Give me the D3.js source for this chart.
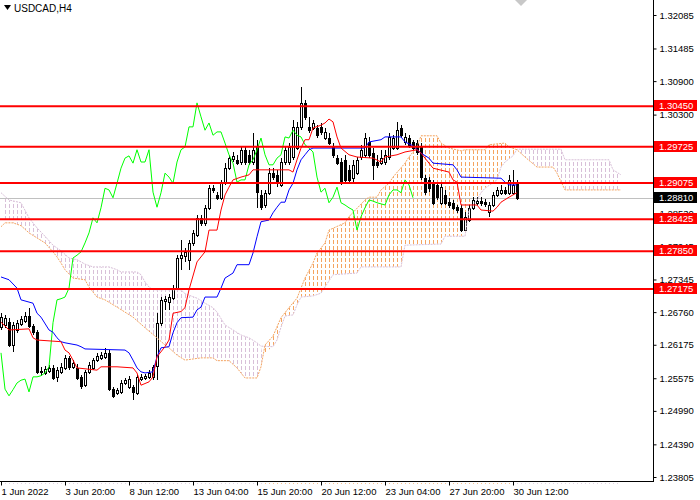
<!DOCTYPE html>
<html>
<head>
<meta charset="utf-8">
<script src="https://cdn.jsdelivr.net/npm/d3@7"></script>
<style>
  body { margin: 0; background: #fff; }
  svg text { font-family: "Liberation Sans", Arial, sans-serif; }
</style>
</head>
<body>
<div id="viz"></div>
<script>
const width = 700;
const height = 500;
const plotRight = 653;
const plotBottom = 481;

const symbol = 'USDCAD,H4';

// H4 candles, one per bar
const opens = [1.2649,1.2653,1.2658,1.2617,1.2644,1.2655,1.2660,1.2669,1.2651,1.2640,
  1.2569,1.2567,1.2571,1.2576,1.2560,1.2569,1.2576,1.2594,1.2578,1.2576,
  1.2560,1.2545,1.2569,1.2576,1.2590,1.2594,1.2596,1.2603,1.2538,1.2531,
  1.2533,1.2549,1.2542,1.2542,1.2531,1.2556,1.2558,1.2560,1.2560,1.2580,
  1.2657,1.2696,1.2694,1.2701,1.2719,1.2773,1.2777,1.2770,1.2800,1.2814,
  1.2845,1.2836,1.2863,1.2898,1.2886,1.2881,1.2907,1.2934,1.2950,1.2949,
  1.2945,1.2967,1.2958,1.2945,1.2972,1.2886,1.2868,1.2890,1.2925,1.2922,
  1.2904,1.2945,1.2945,1.2954,1.2970,1.3008,1.3051,1.3008,1.3006,1.3006,
  1.3008,1.2988,1.2988,1.2972,1.2952,1.2945,1.2949,1.2931,1.2916,1.2925,
  1.2954,1.2958,1.2981,1.2961,1.2945,1.2943,1.2945,1.2954,1.2970,1.2970,
  1.3006,1.2981,1.2988,1.2981,1.2979,1.2972,1.2916,1.2913,1.2907,1.2904,
  1.2872,1.2886,1.2873,1.2872,1.2864,1.2862,1.2823,1.2841,1.2863,1.2872,
  1.2875,1.2873,1.2855,1.2868,1.2886,1.2890,1.2895,1.2890,1.2890,1.2907];
const highs = [1.2674,1.2671,1.2666,1.2658,1.2662,1.2669,1.2676,1.2684,1.2655,1.2644,
  1.2578,1.2579,1.2581,1.2581,1.2578,1.2585,1.2599,1.2597,1.2590,1.2583,
  1.2563,1.2572,1.2587,1.2594,1.2603,1.2605,1.2612,1.2608,1.2542,1.2540,
  1.2554,1.2558,1.2562,1.2545,1.2563,1.2565,1.2565,1.2572,1.2581,1.2674,
  1.2703,1.2705,1.2709,1.2725,1.2778,1.2805,1.2791,1.2805,1.2823,1.2850,
  1.2850,1.2868,1.2904,1.2904,1.2891,1.2913,1.2943,1.2958,1.2963,1.2958,
  1.2972,1.2972,1.2967,1.2997,1.2985,1.2895,1.2895,1.2934,1.2934,1.2931,
  1.2952,1.2972,1.2979,1.3020,1.3017,1.3080,1.3056,1.3026,1.3020,1.3011,
  1.3015,1.3006,1.2997,1.2979,1.2958,1.2952,1.2958,1.2940,1.2949,1.2954,
  1.2976,1.2997,1.2990,1.2970,1.2958,1.2967,1.2967,1.2997,1.2993,1.3017,
  1.3011,1.2997,1.2993,1.2985,1.2985,1.2979,1.2922,1.2918,1.2913,1.2909,
  1.2907,1.2895,1.2881,1.2877,1.2868,1.2868,1.2855,1.2868,1.2882,1.2882,
  1.2882,1.2879,1.2873,1.2891,1.2900,1.2904,1.2900,1.2922,1.2931,1.2913];
const lows = [1.2644,1.2648,1.2614,1.2605,1.2638,1.2651,1.2657,1.2648,1.2635,1.2565,
  1.2562,1.2563,1.2567,1.2554,1.2551,1.2565,1.2572,1.2572,1.2574,1.2554,
  1.2538,1.2542,1.2565,1.2572,1.2587,1.2590,1.2592,1.2535,1.2522,1.2527,
  1.2529,1.2545,1.2538,1.2519,1.2527,1.2553,1.2554,1.2556,1.2554,1.2554,
  1.2651,1.2680,1.2680,1.2698,1.2716,1.2752,1.2766,1.2752,1.2795,1.2810,
  1.2830,1.2830,1.2859,1.2890,1.2877,1.2877,1.2904,1.2931,1.2945,1.2940,
  1.2940,1.2940,1.2940,1.2940,1.2863,1.2859,1.2863,1.2886,1.2913,1.2900,
  1.2900,1.2940,1.2940,1.2949,1.2967,1.3002,1.3020,1.2997,1.3002,1.2988,
  1.2993,1.2985,1.2976,1.2952,1.2940,1.2904,1.2907,1.2907,1.2909,1.2922,
  1.2949,1.2952,1.2952,1.2913,1.2934,1.2940,1.2940,1.2949,1.2967,1.2967,
  1.2988,1.2976,1.2970,1.2967,1.2958,1.2913,1.2886,1.2891,1.2868,1.2877,
  1.2868,1.2868,1.2863,1.2859,1.2853,1.2820,1.2821,1.2838,1.2859,1.2868,
  1.2866,1.2864,1.2847,1.2864,1.2882,1.2886,1.2886,1.2886,1.2886,1.2877];
const closes = [1.2667,1.2666,1.2617,1.2653,1.2657,1.2664,1.2669,1.2651,1.2640,1.2569,
  1.2571,1.2574,1.2576,1.2558,1.2572,1.2578,1.2594,1.2578,1.2585,1.2558,
  1.2544,1.2569,1.2581,1.2590,1.2597,1.2599,1.2603,1.2538,1.2526,1.2537,
  1.2549,1.2554,1.2556,1.2533,1.2560,1.2560,1.2562,1.2567,1.2578,1.2657,
  1.2698,1.2700,1.2703,1.2719,1.2773,1.2778,1.2784,1.2800,1.2818,1.2845,
  1.2836,1.2863,1.2898,1.2895,1.2881,1.2907,1.2934,1.2952,1.2956,1.2943,
  1.2967,1.2945,1.2945,1.2967,1.2891,1.2864,1.2890,1.2925,1.2918,1.2907,
  1.2945,1.2967,1.2972,1.3008,1.3008,1.3051,1.3026,1.3002,1.3015,1.2993,
  1.2999,1.2999,1.2979,1.2958,1.2943,1.2909,1.2913,1.2913,1.2940,1.2949,
  1.2967,1.2988,1.2958,1.2940,1.2940,1.2952,1.2958,1.2990,1.2988,1.3002,
  1.2993,1.2990,1.2976,1.2970,1.2963,1.2918,1.2891,1.2898,1.2872,1.2882,
  1.2900,1.2872,1.2868,1.2863,1.2859,1.2823,1.2847,1.2863,1.2877,1.2875,
  1.2872,1.2870,1.2868,1.2886,1.2895,1.2895,1.2890,1.2913,1.2904,1.2881];

// Ichimoku lines as [bar, price] points
const tenkan = [[0,1.2658],[2,1.2644],[7,1.2646],[8,1.2630],[9,1.2626],[15,1.2623],[16,1.2608],
  [17,1.2603],[18,1.2590],[19,1.2576],[24,1.2572],[25,1.2578],[29,1.2578],[33,1.2576],
  [34,1.2567],[35,1.2545],[37,1.2551],[38,1.2560],[39,1.2596],[41,1.2614],[42,1.2626],
  [43,1.2674],[45,1.2677],[46,1.2684],[47,1.2716],[49,1.2766],[51,1.2784],[52,1.2823],
  [54,1.2823],[55,1.2859],[56,1.2886],[57,1.2900],[58,1.2913],[60,1.2918],[62,1.2922],
  [63,1.2931],[72,1.2931],[73,1.2927],[74,1.2949],[75,1.2970],[76,1.2985],[77,1.2985],
  [78,1.3006],[80,1.3011],[81,1.3015],[82,1.3022],[83,1.3017],[84,1.2990],[85,1.2970],
  [87,1.2958],[89,1.2954],[93,1.2952],[95,1.2945],[96,1.2954],[99,1.2958],[101,1.2963],
  [104,1.2967],[105,1.2961],[108,1.2934],[112,1.2927],[113,1.2913],[114,1.2909],
  [115,1.2868],[119,1.2868],[120,1.2859],[123,1.2857],[124,1.2864],[125,1.2873],
  [127,1.2882],[129,1.2890]];
const kijun = [[0,1.2739],[2,1.2734],[4,1.2719],[5,1.2698],[8,1.2692],[9,1.2674],[10,1.2667],
  [12,1.2644],[13,1.2640],[14,1.2630],[15,1.2623],[16,1.2621],[19,1.2617],[20,1.2614],
  [21,1.2610],[31,1.2608],[32,1.2603],[33,1.2590],[34,1.2576],[35,1.2569],[36,1.2567],
  [38,1.2569],[39,1.2596],[40,1.2612],[42,1.2614],[43,1.2639],[44,1.2657],[45,1.2666],
  [48,1.2667],[49,1.2680],[50,1.2685],[51,1.2703],[54,1.2703],[55,1.2719],[56,1.2737],
  [58,1.2746],[59,1.2761],[62,1.2761],[63,1.2782],[64,1.2811],[65,1.2838],[67,1.2841],
  [68,1.2854],[69,1.2864],[70,1.2873],[71,1.2873],[72,1.2895],[73,1.2907],[74,1.2931],
  [75,1.2949],[76,1.2958],[77,1.2967],[78,1.2970],[91,1.2970],[92,1.2981],[95,1.2985],
  [96,1.2990],[100,1.2990],[101,1.2981],[103,1.2974],[105,1.2961],[107,1.2952],
  [108,1.2943],[113,1.2940],[114,1.2931],[115,1.2918],[125,1.2916],[126,1.2909],
  [127,1.2904],[129,1.2904]];
const spanA = [[0,1.2829],[1,1.2836],[3,1.2836],[5,1.2831],[7,1.2818],[9,1.2809],[11,1.2800],
  [13,1.2784],[14,1.2775],[15,1.2764],[16,1.2752],[18,1.2737],[21,1.2734],[22,1.2721],
  [24,1.2703],[26,1.2698],[29,1.2685],[33,1.2667],[36,1.2648],[39,1.2630],[41,1.2617],
  [42,1.2612],[44,1.2599],[46,1.2590],[50,1.2594],[53,1.2594],[54,1.2589],[57,1.2589],
  [59,1.2576],[61,1.2558],[64,1.2558],[65,1.2578],[66,1.2617],[68,1.2633],[70,1.2666],
  [72,1.2684],[74,1.2701],[75,1.2719],[76,1.2737],[78,1.2764],[79,1.2782],[81,1.2800],
  [82,1.2823],[86,1.2836],[87,1.2847],[91,1.2877],[92,1.2882],[94,1.2882],[95,1.2895],
  [97,1.2907],[98,1.2918],[101,1.2943],[102,1.2954],[104,1.2972],[105,1.2992],
  [109,1.2992],[110,1.2979],[112,1.2970],[115,1.2965],[116,1.2967],[121,1.2967],
  [122,1.2976],[126,1.2979],[127,1.2972],[129,1.2967],[131,1.2954],[134,1.2936],
  [138,1.2936],[139,1.2925],[141,1.2895],[155,1.2895]];
const spanB = [[0,1.2890],[2,1.2877],[5,1.2872],[7,1.2845],[9,1.2827],[11,1.2812],[13,1.2796],
  [15,1.2786],[17,1.2773],[19,1.2770],[21,1.2762],[23,1.2757],[27,1.2757],[29,1.2752],
  [30,1.2748],[34,1.2748],[35,1.2743],[36,1.2730],[37,1.2721],[38,1.2716],[45,1.2716],
  [46,1.2709],[49,1.2701],[51,1.2692],[53,1.2684],[54,1.2676],[56,1.2653],[58,1.2644],
  [60,1.2635],[62,1.2630],[64,1.2621],[65,1.2615],[68,1.2614],[69,1.2626],[70,1.2649],
  [71,1.2669],[73,1.2671],[74,1.2689],[75,1.2703],[78,1.2705],[80,1.2710],[83,1.2743],
  [89,1.2746],[90,1.2757],[100,1.2757],[101,1.2796],[110,1.2798],[111,1.2812],
  [116,1.2812],[117,1.2859],[119,1.2877],[120,1.2890],[121,1.2898],[124,1.2913],
  [125,1.2936],[126,1.2945],[128,1.2956],[129,1.2968],[140,1.2968],[141,1.2949],
  [152,1.2949],[153,1.2931],[155,1.2922]];
// where the two spans cross, and which one is on top first
const twists = [[65.5, 1.2600], [128.8, 1.2966]];
const cloudStartsUp = false;
const chikouShift = 26;

const levels = [1.30450, 1.29725, 1.29075, 1.28425, 1.27850, 1.27175];
const lastPrice = 1.28810;
const priceTicks = [1.32085, 1.31485, 1.30900, 1.30300, 1.28530, 1.27945, 1.27345,
  1.26760, 1.26175, 1.25575, 1.24990, 1.24390, 1.23805];
const timeTickBars = [0, 16, 32, 48, 64, 80, 96, 112, 128];
const timeLabels = ['1 Jun 2022', '3 Jun 20:00', '8 Jun 12:00', '13 Jun 04:00', '15 Jun 20:00',
  '20 Jun 12:00', '23 Jun 04:00', '27 Jun 20:00', '30 Jun 12:00'];

const upColor = '#F4A460';
const downColor = '#D8BFD8';

// Scales
const x = d3.scaleLinear().domain([0, 163]).range([1, plotRight]);
const y = d3.scaleLinear().domain([1.23805, 1.32085]).range([477, 15]);

const svg = d3.select('#viz')
  .append('svg')
    .attr('width', width)
    .attr('height', height)
    .style('display', 'block');

svg.append('rect').attr('width', width).attr('height', height).attr('fill', '#fff');

const plot = svg.append('g');

// Cloud segments between the twists
const firstBar = spanA[0][0];
const lastBar = spanA[spanA.length - 1][0];
const edges = [firstBar, ...twists.map(t => t[0]), lastBar];
const segments = d3.range(edges.length - 1).map(k => ({
  from: edges[k],
  to: edges[k + 1],
  up: k % 2 === 0 ? cloudStartsUp : !cloudStartsUp
}));
const withTwists = s => s.concat(twists).sort((a, b) => a[0] - b[0]);
const edgeA = withTwists(spanA);
const edgeB = withTwists(spanB);
const inside = (pts, seg) => pts.filter(d => d[0] >= seg.from && d[0] <= seg.to);

// dotted columns, one per bar, drawn as short dashes
const barUp = i => segments.find(s => i >= s.from && i <= s.to).up;
const dashRows = d3.range(0, plotBottom, 6);
plot.append('g')
  .selectAll('g')
  .data(d3.range(firstBar + 1, lastBar))
  .join('g')
    .attr('fill', i => barUp(i) ? upColor : downColor)
  .selectAll('rect')
  .data(i => dashRows.map(r => [i, r]))
  .join('rect')
    .attr('x', d => Math.round(x(d[0])))
    .attr('y', d => d[1])
    .attr('width', 1)
    .attr('height', 4);

// white cover outside the cloud
const upTo = d3.area().x(d => x(d[0])).y0(-2).y1(d => y(d[1]));
const downTo = d3.area().x(d => x(d[0])).y0(plotBottom + 2).y1(d => y(d[1]));
const cover = plot.append('g').attr('fill', '#fff').attr('stroke', '#fff').attr('stroke-width', 0.6);
segments.forEach(seg => {
  const top = seg.up ? edgeA : edgeB;
  const bottom = seg.up ? edgeB : edgeA;
  cover.append('path').attr('d', upTo(inside(top, seg)));
  cover.append('path').attr('d', downTo(inside(bottom, seg)));
});

// Current price line
plot.append('line')
  .attr('x1', 0).attr('x2', plotRight)
  .attr('y1', Math.round(y(lastPrice)) + 0.5).attr('y2', Math.round(y(lastPrice)) + 0.5)
  .attr('stroke', '#C0C0C0');

// Candles
const bars = d3.range(closes.length);
const candles = plot.append('g').attr('class', 'candles').attr('shape-rendering', 'crispEdges');
candles.selectAll('line')
  .data(bars)
  .join('line')
    .attr('x1', i => Math.round(x(i)) + 0.5)
    .attr('x2', i => Math.round(x(i)) + 0.5)
    .attr('y1', i => y(highs[i]))
    .attr('y2', i => y(lows[i]))
    .attr('stroke', '#000');
candles.selectAll('rect')
  .data(bars)
  .join('rect')
    .attr('x', i => Math.round(x(i)) - 0.5)
    .attr('y', i => Math.round(y(Math.max(opens[i], closes[i]))) + 0.5)
    .attr('width', 2)
    .attr('height', i => Math.max(0, Math.round(Math.abs(y(opens[i]) - y(closes[i])))))
    .attr('fill', i => closes[i] >= opens[i] ? '#fff' : '#000')
    .attr('stroke', '#000');

// Span lines
const line = d3.line().x(d => x(d[0])).y(d => y(d[1]));
plot.append('path').attr('d', line(spanB))
  .attr('fill', 'none').attr('stroke', downColor).attr('stroke-dasharray', '2,1');
plot.append('path').attr('d', line(spanA))
  .attr('fill', 'none').attr('stroke', upColor).attr('stroke-dasharray', '2,1');

// Chikou: the closes drawn 26 bars back
const chikou = d3.line()
  .x(i => x(i - chikouShift))
  .y(i => y(closes[i]));
plot.append('path')
  .attr('d', chikou(bars.filter(i => i >= chikouShift)))
  .attr('fill', 'none').attr('stroke', '#00FF00');

plot.append('path').attr('d', line(kijun))
  .attr('fill', 'none').attr('stroke', '#0000FF');
plot.append('path').attr('d', line(tenkan))
  .attr('fill', 'none').attr('stroke', '#FF0000');

// Horizontal levels
plot.append('g').selectAll('line')
  .data(levels)
  .join('line')
    .attr('x1', 0).attr('x2', plotRight)
    .attr('y1', d => y(d)).attr('y2', d => y(d))
    .attr('stroke', '#FF0000').attr('stroke-width', 2);

// Frame
svg.append('g').attr('shape-rendering', 'crispEdges')
  .append('path')
    .attr('d', `M0,${plotBottom + 0.5}H${plotRight + 0.5}V0`)
    .attr('fill', 'none').attr('stroke', '#000');

// Price axis
const yAxis = d3.axisRight(y)
  .tickValues(priceTicks)
  .tickSize(3)
  .tickFormat(d3.format('.5f'));
svg.append('g')
  .attr('transform', `translate(${plotRight + 0.5},0)`)
  .call(yAxis)
  .call(g => g.select('.domain').remove())
  .call(g => g.selectAll('text').attr('font-size', 9.5).attr('fill', '#000'));

// Time axis
const xAxis = d3.axisBottom(x)
  .tickValues(timeTickBars)
  .tickSize(4)
  .tickFormat((d, i) => timeLabels[i]);
svg.append('g')
  .attr('transform', `translate(0,${plotBottom + 0.5})`)
  .call(xAxis)
  .call(g => g.select('.domain').remove())
  .call(g => g.selectAll('text')
    .attr('text-anchor', 'start')
    .attr('x', 0)
    .attr('font-size', 9.5)
    .attr('fill', '#000'));

// Price labels for levels and last price
const tags = svg.append('g');
const tag = (value, fill) => {
  const cy = Math.round(y(value));
  tags.append('rect')
    .attr('x', plotRight + 1).attr('y', cy - 6)
    .attr('width', 43).attr('height', 11)
    .attr('fill', fill);
  tags.append('text')
    .attr('x', plotRight + 6).attr('y', cy - 0.5)
    .attr('dy', '0.35em')
    .attr('font-size', 9.5)
    .attr('fill', '#fff')
    .text(d3.format('.5f')(value));
};
levels.forEach(v => tag(v, '#FF0000'));
tag(lastPrice, '#000');

// Title
svg.append('path').attr('d', 'M4,5L11,5L7.5,10Z').attr('fill', '#000');
svg.append('text')
  .attr('x', 14).attr('y', 12)
  .attr('font-size', 10)
  .attr('fill', '#000')
  .text(symbol);

// chart shift marker
svg.append('path').attr('d', 'M515,0L527,0L521,6Z').attr('fill', '#C8C8C8');
</script>
</body>
</html>
